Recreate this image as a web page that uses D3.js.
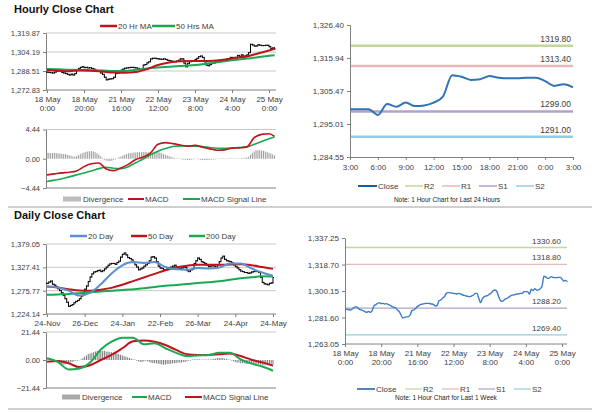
<!DOCTYPE html>
<html><head><meta charset="utf-8">
<script src="https://cdn.jsdelivr.net/npm/d3@7"></script>
<style>body{margin:0;background:#fff;} svg{display:block;font-family:"Liberation Sans",Arial,sans-serif;}</style>
</head><body><svg id="c" width="600" height="413"></svg>
<script>
// ---------------- DATA ----------------
const hourTickIdx = [0,20,40,60,80,100,120];
const hourTickDay = ["18 May","18 May","21 May","22 May","23 May","24 May","25 May"];
const hourTickTime = ["0:00","20:00","16:00","12:00","8:00","4:00","0:00"];
const hourlyClose = [1287.55,1287.3,1287.1,1286.85,1287.55,1288.5,1289.2,1288.5,1287.3,1286.85,
 1286.4,1285.7,1285.2,1285.9,1285.2,1286.4,1289.6,1290.6,1291.5,1292.0,
 1291.3,1291.5,1291.05,1291.3,1290.6,1290.1,1289.2,1288.7,1288.25,1286.85,
 1285.7,1283.35,1281.25,1281.7,1282.0,1282.2,1283.35,1286.4,1286.85,1288.0,
 1289.2,1290.1,1290.8,1291.05,1291.3,1291.5,1291.5,1291.3,1291.05,1290.6,
 1289.7,1290.1,1293.4,1293.85,1295.25,1296.2,1298.5,1299.0,1299.0,1298.75,
 1298.5,1298.3,1298.05,1298.5,1298.05,1297.35,1297.1,1296.65,1296.4,1296.2,
 1296.65,1297.35,1298.5,1298.5,1295.0,1292.0,1294.8,1296.2,1296.65,1297.1,
 1298.05,1299.0,1300.4,1300.85,1299.7,1296.2,1293.4,1292.9,1293.85,1294.8,
 1295.25,1296.2,1297.1,1297.35,1297.6,1298.05,1298.05,1298.5,1298.5,
 1299.7,1299.7,1299.7,1297.9,1301.35,1300.5,1301.8,1300.7,1300.9,1301.8,1303.7,
 1310.5,1310.0,1309.0,1309.2,1310.2,1309.7,1309.5,1309.5,1309.7,1309.7,1308.6,1307.1,1307.6,1306.65];
const hourlyPriceTicks = [1272.83,1288.51,1304.19,1319.87];
const hourlyMAIdx = [0,6,12,18,24,30,36,42,48,54,60,66,72,78,84,90,96,102,108,114,120,123];
const ma20Hr = [1289.3,1288.8,1288.3,1289.0,1288.8,1288.0,1287.2,1287.0,1287.6,1290.0,1293.5,1295.5,1296.5,1296.8,1296.8,1297.0,1297.8,1299.5,1300.5,1303.0,1305.5,1306.8];
const ma50Hr = [1290.2,1289.9,1289.5,1289.3,1289.2,1289.0,1288.6,1288.6,1289.5,1290.5,1291.3,1292.0,1292.6,1293.2,1294.0,1295.3,1296.6,1297.8,1298.8,1299.8,1301.0,1301.6];
const hourlyMacdTicks = [-4.44,0,4.44];
const hourlyMacdIdx = [0,4,8,12,16,20,24,28,32,36,40,44,48,52,56,60,64,68,72,76,80,84,88,92,96,100,104,108,112,116,120,123];
const hourlyMacd = [-2.45,-2.3,-2.15,-2.05,-1.85,-1.2,-0.75,-0.65,-1.55,-1.8,-1.4,-0.85,-0.1,0.25,0.9,2.2,2.45,2.3,2.1,1.9,2.05,1.75,1.5,1.3,1.35,1.6,1.65,1.8,3.2,3.7,3.8,3.4];
const hourlySignal = [-3.45,-3.25,-3.05,-2.75,-2.45,-2.15,-1.85,-1.5,-1.3,-1.45,-1.5,-1.2,-0.6,-0.05,0.6,1.15,1.55,1.85,1.95,1.95,1.9,1.85,1.7,1.6,1.6,1.65,1.7,1.8,2.2,2.6,3.05,3.3];
const hourlyDivergence = [0.9,0.9,0.85,0.85,0.9,0.85,0.8,0.8,0.75,0.7,0.7,0.6,0.55,0.45,
 0.35,0.3,0.4,0.55,0.7,0.85,
 0.95,1.05,1.1,1.15,1.15,1.1,1.0,0.85,0.65,0.4,
 0.1,-0.15,-0.3,-0.35,-0.35,-0.3,-0.2,-0.1,0.05,0.2,
 0.35,0.5,0.6,0.7,0.8,0.85,0.9,0.95,0.95,1.0,
 1.0,1.0,1.05,1.05,1.0,0.95,0.9,0.95,1.05,1.1,
 1.05,0.95,0.85,0.7,0.6,0.5,0.4,0.3,0.2,0.1,
 0.05,0,-0.05,-0.1,-0.15,-0.15,-0.2,-0.2,-0.15,-0.1,
 -0.05,-0.05,-0.1,-0.15,-0.2,-0.2,-0.2,-0.2,-0.15,-0.15,
 -0.1,-0.1,-0.05,-0.05,0,0,-0.05,-0.05,0,0,
 0,0.05,0.05,0.05,0.05,0.1,0.1,0.15,0.2,0.3,
 0.6,0.9,1.1,1.25,1.3,1.3,1.25,1.2,1.1,1.0,
 0.9,0.8,0.65,0.5];

const levelNames = ["R2","R1","S1","S2"];
const levelColors = ["#c3d69b","#e6b9b8","#b3a2c7","#93cddd"];
const levels24h = [1319.80,1313.40,1299.00,1291.00];
const levelsWeek = [1330.60,1318.80,1288.20,1269.40];
const last24Start = 99;
const last24Labels = ["3:00","6:00","9:00","12:00","15:00","18:00","21:00","0:00","3:00"];
const levels24Ticks = [1284.55,1295.01,1305.47,1315.94,1326.40];
const levelsWeekTicks = [1263.05,1281.60,1300.15,1318.70,1337.25];

const dayTickIdx = [0,21,42,63,84,105,126];
const dayTickLabels = ["24-Nov","26-Dec","24-Jan","22-Feb","26-Mar","24-Apr","24-May"];
const dailyClose = [1292,1295,1297,1290,1288,1284,1280,1276,1271,1265,
 1258,1250,1241,1243,1245,1249,1252,1254,1258,1264,
 1270,1279,1286,1296,1306,1313,1317,1318,1320,1321,
 1318,1320,1324,1328,1332,1335,1336,1336,1334,1338,
 1341,1350,1356,1359,1355,1349,1347,1344,1338,1333,
 1328,1322,1324,1326,1330,1333,1336,1342,1350,1351,
 1348,1340,1330,1326,1325,1322,1322,1325,1327,1328,
 1330,1332,1328,1324,1325,1326,1328,1327,1320,1318,
 1322,1324,1336,1342,1348,1345,1340,1338,1336,1332,
 1329,1330,1332,1330,1328,1333,1340,1348,1352,1345,
 1342,1341,1340,1337,1333,1329,1326,1322,1319,1318,
 1316,1316,1314,1315,1317,1318,1320,1318,1316,1305,
 1294,1291,1290,1289,1292,1293,1305];
const dailyPriceTicks = [1224.14,1275.77,1327.41,1379.05];
const dailyMAIdx = [0,6,12,18,24,30,36,42,48,54,60,66,72,78,84,90,96,102,108,114,120,126];
const ma20Day = [1285,1283,1276,1265,1271,1290,1314,1332,1339,1337,1339,1328,1323,1322,1326,1325,1327,1336,1336,1325,1316,1309];
const ma50Day = [1285,1283,1279,1276,1275.5,1278,1282,1289,1297,1305,1313,1321,1327,1331,1333,1333,1333,1333.5,1334,1332,1328,1324];
const ma200Day = [1266.5,1267.5,1268.5,1270,1272,1274,1275.5,1277,1279,1281,1284,1286.5,1288.5,1290.5,1292.5,1294.5,1296.5,1300,1303,1305.5,1307.5,1307];
const dailyMacdTicks = [-21.44,0,21.44];
const dailyMacd = [1.3,-1.5,-7.2,-6.5,-2,8,14,17,17,12,12.8,9,5.5,3,3.5,3.8,5.5,5.5,0.5,-2.8,-5,-8.2];
const dailySignal = [-1.3,-0.8,-2.5,-5.4,-4,0,4,9,14.3,15,14,11.5,7.7,4.5,3.9,3.8,4.4,5,3,0.2,-1.8,-4.3];
const dailyDivergence = [0.5,0.3,0,-0.5,-1,-1.5,
 -2,-2.5,-3,-3.5,-3.5,-3,-2.5,
 -2,-1.5,-1,-0.5,-0.5,-0.3,
 0.5,1.5,2.5,3.5,4.5,5,
 5.5,6,6.5,7,7,7,
 7,7,6.5,6.5,6,6,
 5.5,5.5,5,4.5,4,3.5,
 3,2.5,2,1.5,1,0.5,
 0,-0.5,-1,-1.5,-1.5,-1,
 -0.5,-1,-1.5,-2,-2.5,-2.5,
 -2.5,-3,-3,-3.5,-3.5,-3.5,
 -3,-3,-3,-2.5,-2.5,-2.5,
 -2,-2,-2,-1.5,-1.5,-1,
 -0.5,-0.5,0,0.5,0.5,0.5,
 0.5,0.3,0,0,0,0,
 0,0.5,1,1,1.5,1.5,
 1.5,1.5,1,1,0.5,0,
 -0.5,-1,-1.5,-2,-2,-2.5,
 -2.5,-2.5,-3,-3,-2.5,-2.5,
 -3,-3,-3,-3.5,-3.5,-4,
 -4,-4,-4,-4,-4,-3.5];

// ---------------- DRAW ----------------
const svg = d3.select("#c");
const fmt = d3.format(",.2f");
const AXC = "#808080", GRID = "#c8c8c8", TXT = "#404040";
const RED = "#c0141c", GREEN = "#19a950", BLUE = "#5b8fd0";

function styleAxis(g){
  g.selectAll("path.domain").attr("stroke", AXC);
  g.selectAll(".tick line").attr("stroke", AXC);
  g.selectAll("text").attr("fill", TXT).style("font-size","7.5px");
}
function yAxis(x0, y, ticks, f, size){
  const g = svg.append("g").attr("transform",`translate(${x0},0)`)
    .call(d3.axisLeft(y).tickValues(ticks).tickFormat(f).tickSize(3).tickSizeOuter(0).tickPadding(3));
  styleAxis(g);
  if (size) g.selectAll("text").style("font-size",size);
  return g;
}
function grid(x0,x1,y,ticks){
  svg.append("g").selectAll("line").data(ticks).join("line")
    .attr("x1",x0).attr("x2",x1).attr("y1",d=>y(d)).attr("y2",d=>y(d))
    .attr("stroke",GRID).attr("stroke-width",1);
}
function baseLine(x0,x1,yv){
  svg.append("line").attr("x1",x0).attr("x2",x1).attr("y1",yv).attr("y2",yv).attr("stroke",AXC);
}
function xAxis2(y0, x, idx, l1, l2, fs){
  const g = svg.append("g").attr("transform",`translate(0,${y0})`)
    .call(d3.axisBottom(x).tickValues(idx).tickFormat("").tickSize(3).tickSizeOuter(0));
  g.select("path.domain").remove();
  g.selectAll(".tick line").attr("stroke",AXC);
  g.selectAll(".tick").each(function(d,i){
    const t = d3.select(this).append("text").attr("fill",TXT).attr("text-anchor","middle").style("font-size",fs||"8px");
    t.append("tspan").attr("x",0).attr("y",12).text(l1[i]);
    if (l2) t.append("tspan").attr("x",0).attr("y",21).text(l2[i]);
  });
}
function ohlc(x,y,closes){
  const g = svg.append("g").attr("stroke","#000").attr("stroke-width",1);
  closes.forEach((c,i)=>{
    const o = i>0 ? closes[i-1] : c;
    const xi = x(i);
    g.append("line").attr("x1",xi).attr("x2",xi).attr("y1",y(Math.max(o,c))-0.6).attr("y2",y(Math.min(o,c))+0.6);
    g.append("line").attr("x1",xi-1).attr("x2",xi).attr("y1",y(o)).attr("y2",y(o));
    g.append("line").attr("x1",xi).attr("x2",xi+1).attr("y1",y(c)).attr("y2",y(c));
  });
}
function seriesLine(x,y,idx,vals,color,w){
  const pts = idx.map((d,i)=>[d,vals[i]]);
  svg.append("path").datum(pts)
    .attr("d", d3.line().x(d=>x(d[0])).y(d=>y(d[1])).curve(d3.curveMonotoneX))
    .attr("fill","none").attr("stroke",color).attr("stroke-width",w).attr("stroke-linejoin","round");
}
function divBars(x,y,vals,color){
  svg.append("g").selectAll("line").data(vals).join("line")
    .attr("x1",(d,i)=>x(i)).attr("x2",(d,i)=>x(i))
    .attr("y1",y(0)).attr("y2",d=>y(d)===y(0)?y(0)-0.5:y(d))
    .attr("stroke",color).attr("stroke-width",0.9);
}
function legendLine(x,y,len,color,w,label,fs){
  svg.append("line").attr("x1",x).attr("x2",x+len).attr("y1",y).attr("y2",y).attr("stroke",color).attr("stroke-width",w);
  svg.append("text").attr("x",x+len+1).attr("y",y+3).attr("fill",TXT).style("font-size",fs||"8px").text(label);
}
function legendDiv(x,y,label,color){
  const g = svg.append("g");
  for (let k=0;k<9;k++) g.append("line").attr("x1",x+k*2).attr("x2",x+k*2).attr("y1",y-2.5).attr("y2",y+2.5).attr("stroke",color).attr("stroke-width",1);
  svg.append("text").attr("x",x+19).attr("y",y+3).attr("fill",TXT).style("font-size","8px").text(label);
}
function title(x,y,t){
  svg.append("text").attr("x",x).attr("y",y).attr("font-weight","bold").style("font-size","11px").attr("fill","#111").text(t);
}

// ===== Hourly close chart (top-left) =====
title(14,13,"Hourly Close Chart");
legendLine(100,26,17,RED,2.5,"20 Hr MA");
legendLine(152,26,23,GREEN,2.5,"50 Hrs MA");
const xH = d3.scaleLinear().domain([0,120]).range([47,269]);
const yH = d3.scaleLinear().domain([1272.83,1319.87]).range([90,33]);
grid(46,276,yH,hourlyPriceTicks.slice(1));
baseLine(46,276,90);
yAxis(46,yH,hourlyPriceTicks,fmt);
xAxis2(90,xH,hourTickIdx,hourTickDay,hourTickTime);
ohlc(xH,yH,hourlyClose);
seriesLine(xH,yH,hourlyMAIdx,ma50Hr,GREEN,2);
seriesLine(xH,yH,hourlyMAIdx,ma20Hr,RED,2);

// ===== Hourly MACD =====
const yHM = d3.scaleLinear().domain([-4.44,4.44]).range([188,129.5]);
grid(46,276,yHM,[4.44]);
baseLine(46,276,188);
yAxis(46,yHM,hourlyMacdTicks,d3.format(".2f"));
divBars(xH,yHM,hourlyDivergence,"#8c8c8c");
seriesLine(xH,yHM,hourlyMacdIdx,hourlySignal,GREEN,1.6);
seriesLine(xH,yHM,hourlyMacdIdx,hourlyMacd,RED,1.6);
legendDiv(64,199,"Divergence","#7a7a7a");
legendLine(128,199,16,RED,2,"MACD");
legendLine(183,199,17,GREEN,2,"MACD Signal Line");

// ===== Hourly levels (top-right) =====
const xL = d3.scaleLinear().domain([0,24]).range([350,573]);
const yL = d3.scaleLinear().domain([1284.55,1326.40]).range([157,25]);
yAxis(350,yL,levels24Ticks,fmt,"8px");
{
  const g = svg.append("g").attr("transform","translate(0,157)")
    .call(d3.axisBottom(xL).tickValues(d3.range(0,25,3)).tickFormat((d,i)=>last24Labels[i]).tickSize(3).tickSizeOuter(0).tickPadding(4));
  styleAxis(g); g.selectAll("text").style("font-size","8px");
}
levels24h.forEach((v,i)=>{
  svg.append("line").attr("x1",351).attr("x2",573).attr("y1",yL(v)).attr("y2",yL(v)).attr("stroke",levelColors[i]).attr("stroke-width",2.5);
  svg.append("text").attr("x",571).attr("y",yL(v)-4).attr("text-anchor","end").attr("fill",TXT).style("font-size","8.5px").text(v.toFixed(2));
});
seriesLine(xL,yL,d3.range(25),hourlyClose.slice(last24Start),"#2f74b5",2);
legendLine(358,186,19,"#1f5a9a",2,"Close","8px");
legendLine(405,186,18,levelColors[0],1.5,"R2");
legendLine(442,186,18,levelColors[1],1.5,"R1");
legendLine(479,186,18,levelColors[2],1.5,"S1");
legendLine(516,186,18,levelColors[3],1.5,"S2");
svg.append("text").attr("x",447).attr("y",202).attr("text-anchor","middle").attr("fill","#222").style("font-size","6.5px").text("Note: 1 Hour Chart for Last 24 Hours");

// separators
svg.append("line").attr("x1",8).attr("x2",592).attr("y1",207).attr("y2",207).attr("stroke","#a0a0a0");
svg.append("line").attr("x1",8).attr("x2",592).attr("y1",409).attr("y2",409).attr("stroke","#a0a0a0");

// ===== Daily close chart =====
title(14,219,"Daily Close Chart");
legendLine(70,236,17,BLUE,2.5,"20 Day");
legendLine(131,236,16,RED,2.5,"50 Day");
legendLine(189,236,16,GREEN,2.5,"200 Day");
const xD = d3.scaleLinear().domain([0,126]).range([47,273]);
const yD = d3.scaleLinear().domain([1224.14,1379.05]).range([314,244]);
grid(46,276,yD,dailyPriceTicks.slice(1));
baseLine(46,276,314);
yAxis(46,yD,dailyPriceTicks,fmt);
xAxis2(314,xD,dayTickIdx,dayTickLabels,null);
ohlc(xD,yD,dailyClose);
seriesLine(xD,yD,dailyMAIdx,ma200Day,GREEN,2);
seriesLine(xD,yD,dailyMAIdx,ma50Day,RED,2);
seriesLine(xD,yD,dailyMAIdx,ma20Day,BLUE,2);

// ===== Daily MACD =====
const yDM = d3.scaleLinear().domain([-21.44,21.44]).range([388,332]);
grid(46,276,yDM,[21.44]);
baseLine(46,276,388);
yAxis(46,yDM,dailyMacdTicks,d3.format(".2f"));
divBars(xD,yDM,dailyDivergence,"#6a6a6a");
seriesLine(xD,yDM,dailyMAIdx,dailySignal,RED,2);
seriesLine(xD,yDM,dailyMAIdx,dailyMacd,GREEN,2);
legendDiv(63,397,"Divergence","#555");
legendLine(132,397,15,GREEN,2,"MACD");
legendLine(185,397,17,RED,2,"MACD Signal Line");

// ===== Weekly levels (bottom-right) =====
const xW = d3.scaleLinear().domain([0,120]).range([345,562]);
const yW = d3.scaleLinear().domain([1263.05,1337.25]).range([344,238]);
yAxis(345,yW,levelsWeekTicks,fmt,"8px");
baseLine(345,567,344);
xAxis2(344,xW,hourTickIdx,hourTickDay,hourTickTime,"8px");
levelsWeek.forEach((v,i)=>{
  svg.append("line").attr("x1",346).attr("x2",567).attr("y1",yW(v)).attr("y2",yW(v)).attr("stroke",levelColors[i]).attr("stroke-width",1.3);
  svg.append("text").attr("x",561).attr("y",yW(v)-4).attr("text-anchor","end").attr("fill",TXT).style("font-size","8px").text(v.toFixed(2));
});
seriesLine(xW,yW,d3.range(hourlyClose.length),hourlyClose,"#3b7dc4",1.4);
legendLine(357,389,18,"#1f5a9a",1.5,"Close");
legendLine(405,389,17,levelColors[0],1.2,"R2");
legendLine(442,389,17,levelColors[1],1.2,"R1");
legendLine(478,389,17,levelColors[2],1.2,"S1");
legendLine(514,389,17,levelColors[3],1.2,"S2");
svg.append("text").attr("x",446).attr("y",400).attr("text-anchor","middle").attr("fill","#222").style("font-size","6.5px").text("Note: 1 Hour Chart for Last 1 Week");
</script></body></html>
